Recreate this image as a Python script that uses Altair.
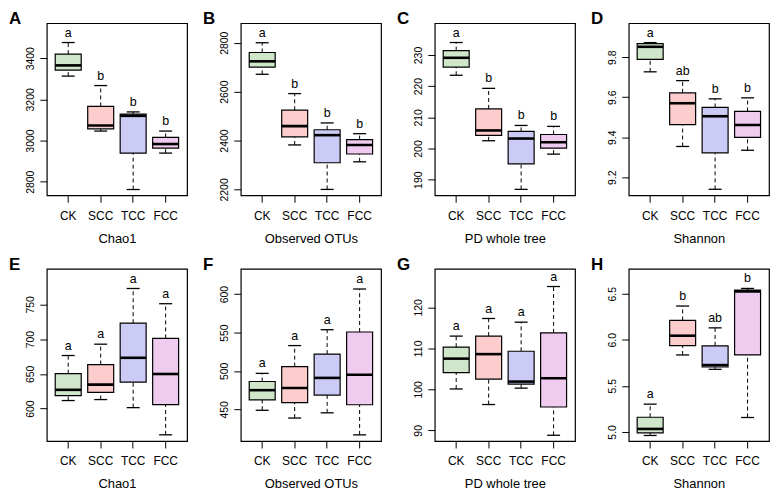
import altair as alt
import pandas as pd

groups = ["CK", "SCC", "TCC", "FCC"]
colors = ["#cfe6ca", "#fdcdcd", "#cbcbf6", "#efcbef"]

panel_ids = ["A", "B", "C", "D", "E", "F", "G", "H"]
panel_titles = ["Chao1", "Observed OTUs", "PD whole tree", "Shannon",
                "Chao1", "Observed OTUs", "PD whole tree", "Shannon"]

upper = [
    [3476, 3267, 3139, 3046],
    [2800, 2592, 2472, 2428],
    [234.0, 219.3, 207.4, 207.1],
    [9.873, 9.683, 9.592, 9.597],
    [676.4, 692.7, 772.8, 750.9],
    [496.8, 533.0, 553.7, 606.7],
    [113.0, 117.3, 116.4, 125.1],
    [5.301, 6.366, 6.129, 6.557],
]
q3 = [
    [3420, 3166, 3128, 3015],
    [2760, 2524, 2444, 2404],
    [231.4, 212.7, 205.5, 204.5],
    [9.868, 9.622, 9.549, 9.529],
    [650.3, 663.4, 723.0, 701.1],
    [486.2, 505.6, 522.0, 550.7],
    [110.3, 113.0, 109.3, 113.8],
    [5.159, 6.210, 5.934, 6.539],
]
median = [
    [3365, 3073, 3120, 2983],
    [2724, 2459, 2422, 2382],
    [229.1, 205.8, 203.2, 202.0],
    [9.852, 9.570, 9.505, 9.461],
    [627.0, 634.5, 673.1, 649.8],
    [474.9, 477.8, 490.9, 495.1],
    [107.5, 108.6, 101.9, 102.7],
    [5.032, 6.044, 5.725, 6.525],
]
q1 = [
    [3342, 3057, 2939, 2963],
    [2700, 2415, 2309, 2345],
    [226.1, 204.2, 195.1, 200.1],
    [9.789, 9.463, 9.322, 9.399],
    [618.6, 623.3, 638.2, 605.6],
    [462.2, 458.8, 468.5, 455.9],
    [104.1, 102.5, 101.3, 95.7],
    [4.989, 5.937, 5.704, 5.835],
]
lower = [
    [3313, 3046, 2762, 2939],
    [2671, 2382, 2200, 2313],
    [223.5, 202.5, 186.9, 198.2],
    [9.727, 9.354, 9.140, 9.335],
    [611.6, 613.0, 601.4, 562.3],
    [448.7, 438.6, 445.4, 416.7],
    [100.1, 96.3, 100.3, 88.8],
    [4.961, 5.835, 5.679, 5.156],
]
letters = [
    ["a", "b", "b", "b"],
    ["a", "b", "b", "b"],
    ["a", "b", "b", "b"],
    ["a", "ab", "b", "b"],
    ["a", "a", "a", "a"],
    ["a", "a", "a", "a"],
    ["a", "a", "a", "a"],
    ["a", "b", "ab", "b"],
]
y_domains = [
    [2734, 3570], [2176, 2880], [185.0, 240.2], [9.11, 9.97],
    [553.4, 801.0], [408.7, 632.9], [87.4, 129.4], [4.901, 6.769],
]
y_ticks = [
    [2800, 3000, 3200, 3400], [2200, 2400, 2600, 2800],
    [190, 200, 210, 220, 230], [9.2, 9.4, 9.6, 9.8],
    [600, 650, 700, 750], [450, 500, 550, 600],
    [90, 100, 110, 120], [5.0, 5.5, 6.0, 6.5],
]
y_formats = ["d", "d", "d", ".1f", "d", "d", "d", ".1f"]

W, H = 141, 173
STEP = W / 4.32
BOX_W = STEP * 0.8


def panel(i):
    df = pd.DataFrame({
        "group": groups,
        "lower": lower[i],
        "q1": q1[i],
        "median": median[i],
        "q3": q3[i],
        "upper": upper[i],
        "letter": letters[i],
    })
    x = alt.X("group:N", sort=groups,
              scale=alt.Scale(domain=groups, paddingInner=0.2, paddingOuter=0.26),
              axis=alt.Axis(title=panel_titles[i], labelAngle=0))
    yscale = alt.Scale(domain=y_domains[i], nice=False, zero=False)
    yaxis = alt.Axis(values=y_ticks[i], format=y_formats[i], title=None, labelOverlap=False)

    def Y(field):
        return alt.Y(field + ":Q", scale=yscale, axis=yaxis)

    base = alt.Chart(df)
    whisk_up = base.mark_rule(color="black", strokeDash=[4, 3], strokeWidth=1).encode(
        x=x, y=Y("q3"), y2="upper:Q")
    whisk_lo = base.mark_rule(color="black", strokeDash=[4, 3], strokeWidth=1).encode(
        x=x, y=Y("lower"), y2="q1:Q")
    box = base.mark_bar(stroke="black", strokeWidth=1.2, opacity=1).encode(
        x=x, y=Y("q1"), y2="q3:Q",
        color=alt.Color("group:N", scale=alt.Scale(domain=groups, range=colors), legend=None))
    med = base.mark_tick(color="black", thickness=2.6, size=BOX_W, opacity=1).encode(
        x=x, y=Y("median"))
    cap_u = base.mark_tick(color="black", thickness=1.3, size=BOX_W / 2, opacity=1).encode(
        x=x, y=Y("upper"))
    cap_l = base.mark_tick(color="black", thickness=1.3, size=BOX_W / 2, opacity=1).encode(
        x=x, y=Y("lower"))
    txt = base.mark_text(baseline="alphabetic", dy=-6, fontSize=12.5,
                         font="Liberation Sans", color="black").encode(
        x=x, y=Y("upper"), text="letter:N")
    tag = alt.Chart(pd.DataFrame({"tag": [panel_ids[i]]})).mark_text(
        align="left", baseline="alphabetic", fontSize=17, fontWeight="bold",
        font="Liberation Sans", color="black").encode(
        x=alt.value(-38), y=alt.value(1), text="tag:N")
    return alt.layer(whisk_up, whisk_lo, box, med, cap_u, cap_l, txt, tag).properties(
        width=W, height=H)


row1 = alt.hconcat(*[panel(i) for i in range(4)], spacing=14)
row2 = alt.hconcat(*[panel(i) for i in range(4, 8)], spacing=14)

chart = alt.vconcat(row1, row2, spacing=9).properties(padding=0).configure_view(
    stroke="black", strokeWidth=1.2
).configure_axis(
    grid=False, domain=False, tickColor="black", tickSize=7, tickWidth=1,
    labelColor="black", titleColor="black",
    labelFont="Liberation Sans", titleFont="Liberation Sans",
    titleFontWeight="normal",
).configure_axisY(
    labelAngle=270, labelAlign="center", labelBaseline="bottom",
    labelFontSize=10.5, labelPadding=4,
).configure_axisX(
    labelFontSize=12, titleFontSize=13, labelPadding=8, titlePadding=11,
)

chart.save("out.html", embed_options={"renderer": "svg", "actions": False})
